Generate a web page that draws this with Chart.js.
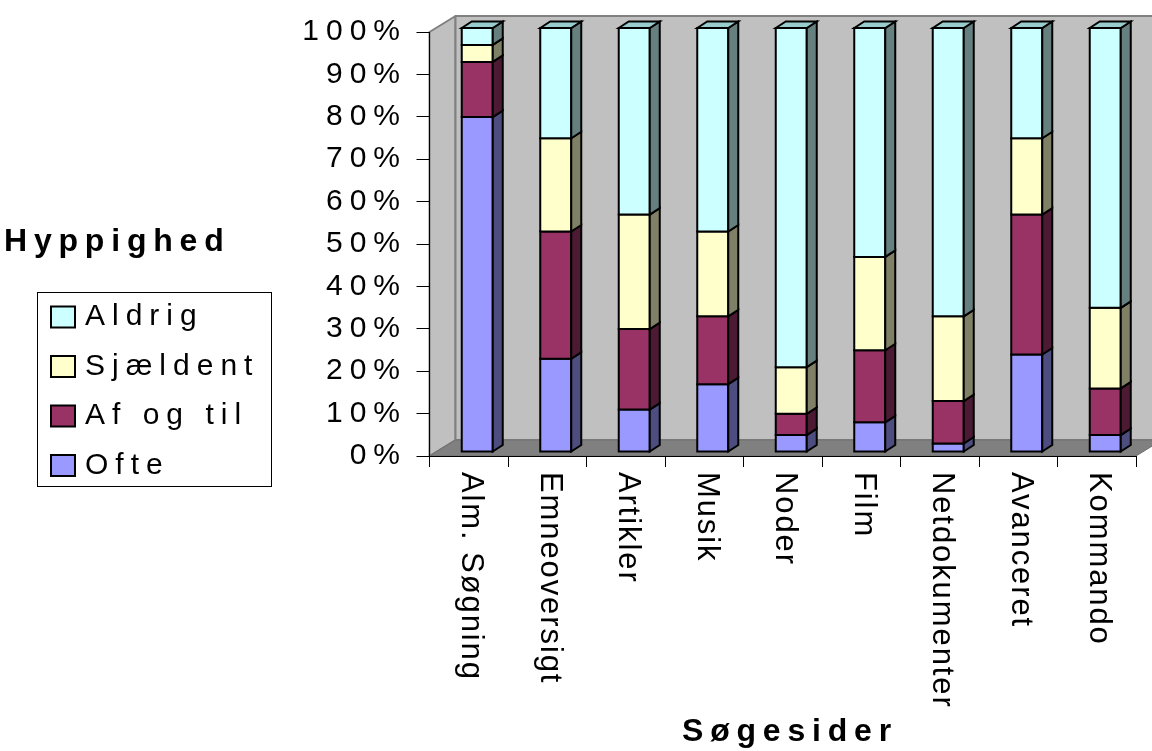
<!DOCTYPE html>
<html>
<head>
<meta charset="utf-8">
<script src="https://cdn.jsdelivr.net/npm/chart.js@4/dist/chart.umd.min.js"></script>
<style>
  html, body { margin: 0; padding: 0; background: #fff; }
  #wrap { width: 1152px; height: 751px; position: relative; }
</style>
</head>
<body>
<div id="wrap"><canvas id="myChart"></canvas></div>
<script>
// data (percent per category)
const categories = ['Alm. Søgning', 'Emneoversigt', 'Artikler', 'Musik', 'Noder', 'Film', 'Netdokumenter', 'Avanceret', 'Kommando'];
const ofte      = [79, 22, 10, 16,  4,  7,  2, 23,  4];
const afOgTil   = [13, 30, 19, 16,  5, 17, 10, 33, 11];
const sjaeldent = [ 4, 22, 27, 20, 11, 22, 20, 18, 19];
const aldrig    = [ 4, 26, 44, 48, 80, 54, 68, 26, 66];
const yTicks    = [0, 10, 20, 30, 40, 50, 60, 70, 80, 90, 100];

const FONT = '"Liberation Sans", Arial, sans-serif';

// front, side, top colours per series
const faces = [
    { front: '#9999FF', side: '#4D4D80', top: '#7A7ACC' },
    { front: '#993366', side: '#4D1A33', top: '#7A2952' },
    { front: '#FFFFCC', side: '#808066', top: '#CCCCA3' },
    { front: '#CCFFFF', side: '#668080', top: '#99CCCC' }
];

function poly(ctx, pts, fill, stroke, lw) {
    ctx.beginPath();
    ctx.moveTo(pts[0][0], pts[0][1]);
    for (let i = 1; i < pts.length; i++) ctx.lineTo(pts[i][0], pts[i][1]);
    ctx.closePath();
    if (fill) { ctx.fillStyle = fill; ctx.fill(); }
    if (stroke) { ctx.strokeStyle = stroke; ctx.lineWidth = lw; ctx.stroke(); }
}

const box3d = {
    id: 'box3d',
    beforeDraw(chart) {
        const ctx = chart.ctx;
        const a = chart.chartArea;
        const dx = 26, dy = -16;
        ctx.save();
        ctx.lineJoin = 'round';
        // left wall, back wall, floor
        poly(ctx, [[a.left, a.top], [a.left + dx, a.top + dy], [a.left + dx, a.bottom + dy], [a.left, a.bottom]], '#C0C0C0', '#808080', 2);
        poly(ctx, [[a.left + dx, a.top + dy], [a.right + dx, a.top + dy], [a.right + dx, a.bottom + dy], [a.left + dx, a.bottom + dy]], '#C0C0C0', '#808080', 2);
        poly(ctx, [[a.left, a.bottom], [a.left + dx, a.bottom + dy], [a.right + dx, a.bottom + dy], [a.right, a.bottom]], '#808080', '#707070', 1);
        ctx.restore();
        ctx.letterSpacing = '7px';
    },
    afterDatasetsDraw(chart) {
        const ctx = chart.ctx;
        const ox = 8.5, oy = -4;     // front face shift into the depth
        const dx = 10, dy = -6.5;    // bar depth
        ctx.save();
        ctx.letterSpacing = '0px';
        ctx.lineJoin = 'miter';
        const n = chart.data.labels.length;
        const count = chart.data.datasets.length;
        for (let i = 0; i < n; i++) {
            let last = -1;
            for (let j = 0; j < count; j++) {
                if (chart.data.datasets[j].data[i] > 0) last = j;
            }
            for (let j = 0; j < count; j++) {
                const el = chart.getDatasetMeta(j).data[i];
                if (!el || chart.data.datasets[j].data[i] <= 0) continue;
                const p = el.getProps(['x', 'y', 'base', 'width'], true);
                const x0 = p.x - p.width / 2 + ox, x1 = x0 + p.width;
                const yt = p.y + oy, yb = p.base + oy;
                const f = faces[j];
                poly(ctx, [[x0, yt], [x1, yt], [x1, yb], [x0, yb]], f.front, '#000', 2);
                poly(ctx, [[x1, yb], [x1 + dx, yb + dy], [x1 + dx, yt + dy], [x1, yt]], f.side, '#000', 2);
                if (j === last) {
                    poly(ctx, [[x0, yt], [x0 + dx, yt + dy], [x1 + dx, yt + dy], [x1, yt]], f.top, '#000', 2);
                }
            }
        }
        ctx.restore();
    },
    afterDraw(chart) {
        const ctx = chart.ctx;
        const xs = chart.scales.x;
        ctx.save();
        ctx.fillStyle = '#000';

        // category labels, rotated clockwise
        ctx.font = '31px ' + FONT;
        ctx.letterSpacing = '1.9px';
        ctx.textAlign = 'left';
        ctx.textBaseline = 'middle';
        chart.data.labels.forEach((lab, i) => {
            const x = xs.getPixelForTick(i) + 2;
            ctx.save();
            ctx.translate(x, 472);
            ctx.rotate(Math.PI / 2);
            ctx.fillText(lab, 0, 0);
            ctx.restore();
        });

        // titles
        ctx.font = 'bold 32px ' + FONT;
        ctx.letterSpacing = '6.8px';
        ctx.fillText('Søgesider', 682, 732);
        ctx.fillText('Hyppighed', 4, 242);

        // legend
        ctx.strokeStyle = '#000';
        ctx.lineWidth = 1;
        ctx.strokeRect(37.5, 292.5, 234, 194);
        const rows = [317, 366.5, 416, 465.5];
        ctx.font = '30px ' + FONT;
        ctx.letterSpacing = '7px';
        const ds = chart.data.datasets;
        for (let k = 0; k < ds.length; k++) {
            const j = ds.length - 1 - k;
            const cy = rows[k];
            ctx.fillStyle = faces[j].front;
            ctx.fillRect(51, cy - 10.5, 24, 21);
            ctx.lineWidth = 2;
            ctx.strokeRect(51, cy - 10.5, 24, 21);
            ctx.fillStyle = '#000';
            ctx.fillText(ds[j].label, 85, cy);
        }
        ctx.restore();
    }
};

const seriesOpts = { backgroundColor: 'transparent', borderWidth: 0, barPercentage: 0.395, categoryPercentage: 1 };

new Chart(document.getElementById('myChart'), {
    type: 'bar',
    data: {
        labels: categories,
        datasets: [
            Object.assign({ label: 'Ofte', data: ofte }, seriesOpts),
            Object.assign({ label: 'Af og til', data: afOgTil }, seriesOpts),
            Object.assign({ label: 'Sjældent', data: sjaeldent }, seriesOpts),
            Object.assign({ label: 'Aldrig', data: aldrig }, seriesOpts)
        ]
    },
    options: {
        responsive: true,
        maintainAspectRatio: false,
        animation: false,
        layout: { padding: { left: 0, top: 32, right: 16, bottom: 0 } },
        plugins: {
            legend: { display: false },
            tooltip: { enabled: false },
            title: { display: false }
        },
        scales: {
            x: {
                stacked: true,
                ticks: { display: false },
                grid: { offset: true, drawOnChartArea: false, drawTicks: true, tickLength: 11, color: '#000', lineWidth: 1 },
                border: { display: true, color: '#000', width: 1 },
                afterFit: function (scale) { scale.height = 295; }
            },
            y: {
                stacked: true,
                min: 0,
                max: 100,
                afterBuildTicks: function (scale) { scale.ticks = yTicks.map(v => ({ value: v })); },
                ticks: {
                    color: '#000',
                    padding: 9.5,
                    font: { family: FONT, size: 30 },
                    callback: function (value) { return value + '%'; }
                },
                grid: { drawOnChartArea: false, drawTicks: true, tickLength: 13, color: '#000', lineWidth: 1 },
                border: { display: true, color: '#000', width: 1 },
                afterFit: function (scale) { scale.width = 429.5; }
            }
        }
    },
    plugins: [box3d]
});
</script>
</body>
</html>
